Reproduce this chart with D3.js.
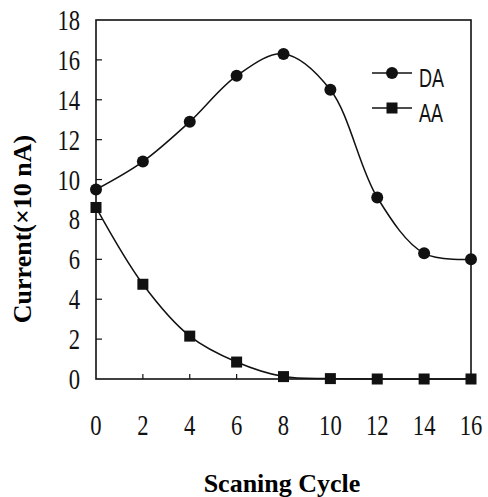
<!DOCTYPE html>
<html>
<head>
<meta charset="utf-8">
<script src="https://cdn.jsdelivr.net/npm/d3@7"></script>
<style>
  body { margin: 0; background: #fff; }
  svg { display: block; }
</style>
</head>
<body>
<script>
// data
const cycles = [0, 2, 4, 6, 8, 10, 12, 14, 16];
const daValues = [9.5, 10.9, 12.9, 15.2, 16.3, 14.5, 9.1, 6.3, 6.0];
const aaValues = [8.6, 4.75, 2.15, 0.85, 0.12, 0.02, 0.0, 0.0, 0.0];
const xTicks = [0, 2, 4, 6, 8, 10, 12, 14, 16];
const yTicks = [0, 2, 4, 6, 8, 10, 12, 14, 16, 18];
const seriesNames = ["DA", "AA"];

const width = 488, height = 497;
const margin = { left: 96, right: 17, top: 20, bottom: 118 };
const serif = "'Liberation Serif', 'Times New Roman', serif";

const svg = d3.select("body").append("svg")
    .attr("width", width)
    .attr("height", height);

const x = d3.scaleLinear().domain([0, 16]).range([margin.left, width - margin.right]);
const y = d3.scaleLinear().domain([0, 18]).range([height - margin.bottom, margin.top]);

// frame
svg.append("rect")
    .attr("x", x(0)).attr("y", y(18))
    .attr("width", x(16) - x(0)).attr("height", y(0) - y(18))
    .attr("fill", "none").attr("stroke", "#111").attr("stroke-width", 1.6);

// ticks (inside)
svg.append("g").selectAll("line").data(xTicks.slice(1, -1)).enter().append("line")
    .attr("x1", d => x(d)).attr("x2", d => x(d))
    .attr("y1", y(0)).attr("y2", y(0) - 5)
    .attr("stroke", "#111").attr("stroke-width", 1.2);

svg.append("g").selectAll("line").data(yTicks.slice(1, -1)).enter().append("line")
    .attr("x1", x(0)).attr("x2", x(0) + 6)
    .attr("y1", d => y(d)).attr("y2", d => y(d))
    .attr("stroke", "#111").attr("stroke-width", 1.2);

// tick labels: tall, narrow digits
svg.append("g").selectAll("text").data(xTicks).enter().append("text")
    .attr("transform", d => `translate(${x(d)},435) scale(0.78,1)`)
    .attr("text-anchor", "middle")
    .style("font-family", serif).style("font-size", "29px").attr("fill", "#111")
    .text(d => d);

svg.append("g").selectAll("text").data(yTicks).enter().append("text")
    .attr("transform", d => `translate(80,${y(d) + 10}) scale(0.78,1)`)
    .attr("text-anchor", "end")
    .style("font-family", serif).style("font-size", "29px").attr("fill", "#111")
    .text(d => d);

// axis titles
svg.append("text")
    .attr("x", 282).attr("y", 492)
    .attr("text-anchor", "middle")
    .style("font-family", serif).style("font-size", "26px").style("font-weight", "bold")
    .text("Scaning Cycle");

svg.append("text")
    .attr("transform", "translate(31,229) rotate(-90)")
    .attr("text-anchor", "middle")
    .style("font-family", serif).style("font-size", "26px").style("font-weight", "bold")
    .text("Current(\u00d710 nA)");

// series
const line = d3.line()
    .x((d, i) => x(cycles[i]))
    .y(d => y(d))
    .curve(d3.curveCatmullRom.alpha(0.5));

svg.append("path")
    .datum(daValues)
    .attr("d", line)
    .attr("fill", "none").attr("stroke", "#111").attr("stroke-width", 1.5);

svg.append("path")
    .datum(aaValues)
    .attr("d", line)
    .attr("fill", "none").attr("stroke", "#111").attr("stroke-width", 1.5);

svg.append("g").selectAll("circle").data(daValues).enter().append("circle")
    .attr("cx", (d, i) => x(cycles[i]))
    .attr("cy", d => y(d))
    .attr("r", 6)
    .attr("fill", "#111");

const sq = 11;
svg.append("g").selectAll("rect").data(aaValues).enter().append("rect")
    .attr("x", (d, i) => x(cycles[i]) - sq / 2)
    .attr("y", d => y(d) - sq / 2)
    .attr("width", sq).attr("height", sq)
    .attr("fill", "#111");

// legend
const legend = svg.append("g");
const legendY = [73, 108];
seriesNames.forEach((name, i) => {
    const g = legend.append("g").attr("transform", `translate(0,${legendY[i]})`);
    g.append("line")
        .attr("x1", 372).attr("x2", 412)
        .attr("stroke", "#111").attr("stroke-width", 1.5);
    if (i === 0) {
        g.append("circle").attr("cx", 392).attr("r", 6).attr("fill", "#111");
    } else {
        g.append("rect").attr("x", 392 - sq / 2).attr("y", -sq / 2)
            .attr("width", sq).attr("height", sq).attr("fill", "#111");
    }
    g.append("text")
        .attr("transform", "translate(419,14) scale(0.72,1)")
        .style("font-family", "'Liberation Sans', Arial, sans-serif")
        .style("font-size", "25px").attr("fill", "#111")
        .text(name);
});
</script>
</body>
</html>
